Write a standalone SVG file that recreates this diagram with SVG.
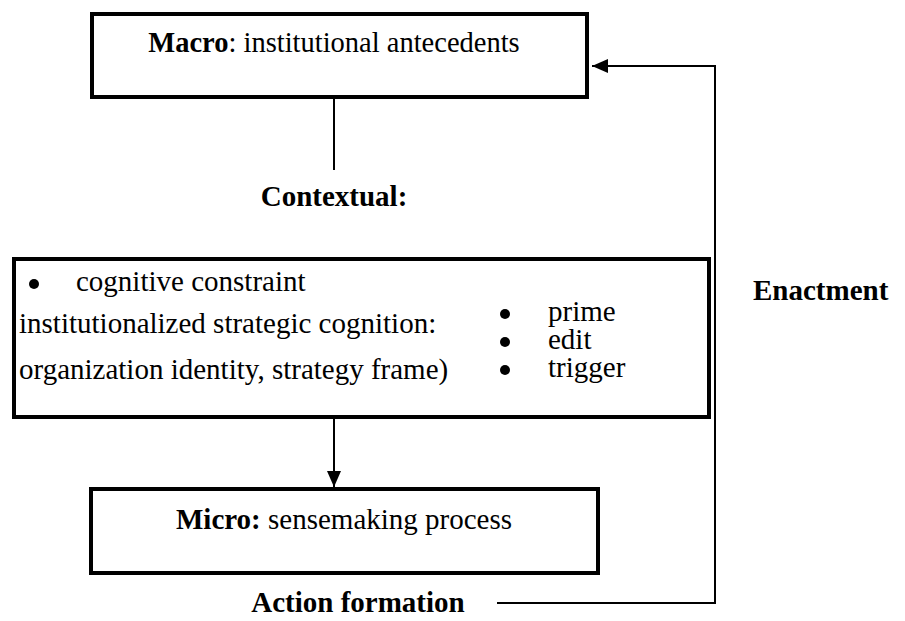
<svg xmlns="http://www.w3.org/2000/svg" width="905" height="621" viewBox="0 0 905 621">
<defs>
<style>
text{font-family:"Liberation Serif","Times New Roman",serif;font-size:29px;fill:#000}
.b{font-weight:bold}
.box{fill:#fff;stroke:#000;stroke-width:4}
.ln{fill:none;stroke:#000;stroke-width:2}
</style>
<marker id="ah" viewBox="0 0 16 14" refX="16" refY="7" markerWidth="16" markerHeight="14" markerUnits="userSpaceOnUse" orient="auto">
<path d="M0,0 L16,7 L0,14 Z" fill="#000"/>
</marker>
</defs>
<g id="connectors">
<line class="ln" x1="334" y1="97" x2="334" y2="170"/>
<line class="ln" x1="334" y1="419" x2="334" y2="487" marker-end="url(#ah)"/>
<polyline class="ln" points="497,603 715,603 715,66 592,66" marker-end="url(#ah)"/>
</g>
<g id="macro">
<rect class="box" x="92" y="14" width="495" height="83"/>
<text x="334" y="52" text-anchor="middle" style="font-size:28.5px"><tspan class="b">Macro</tspan>: institutional antecedents</text>
</g>
<g id="contextual-label">
<text class="b" x="334" y="206" text-anchor="middle">Contextual:</text>
</g>
<g id="contextual">
<rect class="box" x="14" y="259" width="695" height="158"/>
<circle cx="34" cy="284" r="5"/>
<text x="76" y="291">cognitive constraint</text>
<text x="19" y="333">institutionalized strategic cognition:</text>
<text x="19" y="379">organization identity, strategy frame)</text>
<circle cx="505" cy="314" r="5"/>
<circle cx="505" cy="342" r="5"/>
<circle cx="505" cy="370" r="5"/>
<text><tspan x="548" y="321">prime</tspan><tspan x="548" y="349">edit</tspan><tspan x="548" y="377">trigger</tspan></text>
</g>
<g id="enactment">
<text class="b" x="753" y="300">Enactment</text>
</g>
<g id="micro">
<rect class="box" x="91" y="489" width="507" height="84"/>
<text x="344" y="529" text-anchor="middle"><tspan class="b">Micro:</tspan> sensemaking process</text>
</g>
<g id="action">
<text class="b" x="358" y="612" text-anchor="middle">Action formation</text>
</g>
</svg>
